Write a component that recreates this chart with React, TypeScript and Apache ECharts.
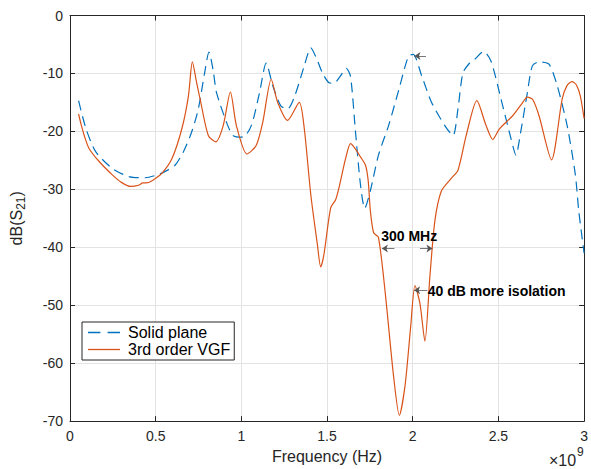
import React, { useEffect, useRef } from "react";
import * as echarts from "echarts";

// Frequencies in units of 1e9 Hz (axis shows ×10^9)
const solidFreq = [
  0.05, 0.093, 0.15, 0.247, 0.344, 0.44, 0.51, 0.556, 0.614, 0.662, 0.71, 0.749, 0.785, 0.811, 0.836,
  0.855, 0.913, 0.951, 1.009, 1.058, 1.106, 1.145, 1.183, 1.23, 1.27, 1.31, 1.367, 1.405, 1.44, 1.473,
  1.511, 1.54, 1.579, 1.612, 1.637, 1.666, 1.695, 1.72, 1.753, 1.8, 1.859, 1.917, 1.975, 2.003, 2.052,
  2.11, 2.187, 2.235, 2.264, 2.293, 2.332, 2.36, 2.414, 2.457, 2.515, 2.573, 2.602, 2.63, 2.669, 2.698,
  2.737, 2.795, 2.843, 2.901, 2.949, 2.969, 3.0,
];
const solidDb = [
  -14.7, -19.5, -23.5, -26.4, -27.8, -28.0, -27.5, -26.9, -25.8, -23.5, -20.1, -16.1, -10.0, -6.3, -9.6,
  -13.3, -18.4, -20.7, -21.0, -19.0, -13.3, -8.2, -12.1, -15.6, -16.1, -14.0, -8.7, -5.6, -7.5, -9.9,
  -11.6, -11.7, -10.4, -9.1, -10.5, -20.1, -29.2, -33.3, -30.2, -24.1, -19.0, -13.0, -7.0, -6.7, -10.4,
  -15.0, -19.0, -20.7, -16.1, -9.9, -8.2, -7.6, -6.2, -7.9, -14.4, -21.2, -24.1, -20.1, -13.3, -8.7,
  -8.0, -8.4, -12.1, -19.0, -27.5, -33.8, -41.0,
];

const vgfFreq = [
  0.05, 0.064, 0.083, 0.112, 0.17, 0.247, 0.3, 0.353, 0.4, 0.425, 0.445, 0.479, 0.537, 0.595, 0.653,
  0.691, 0.714, 0.739, 0.759, 0.807, 0.851, 0.894, 0.936, 0.971, 1.033, 1.087, 1.125, 1.174, 1.212, 1.27,
  1.338, 1.367, 1.405, 1.443, 1.463, 1.482, 1.521, 1.55, 1.569, 1.608, 1.637, 1.665, 1.695, 1.724, 1.74,
  1.753, 1.772, 1.8, 1.84, 1.888, 1.922, 1.955, 1.988, 2.013, 2.042, 2.071, 2.1, 2.129, 2.167, 2.225,
  2.264, 2.312, 2.374, 2.428, 2.467, 2.505, 2.583, 2.635, 2.669, 2.7, 2.737, 2.81, 2.872, 2.9, 2.93,
  2.955, 2.978, 3.0,
];
const vgfDb = [
  -17.0, -18.7, -20.7, -23.0, -25.2, -27.5, -28.8, -29.5, -29.3, -28.9, -28.9, -28.5, -27.2, -24.7, -19.5,
  -13.9, -8.0, -11.6, -14.4, -20.7, -21.8, -19.0, -13.2, -19.0, -23.9, -22.4, -18.4, -11.0, -15.0, -18.1,
  -15.0, -19.5, -30.9, -39.4, -43.4, -41.2, -33.2, -31.8, -29.8, -24.7, -22.1, -23.0, -24.4, -25.8, -28.5,
  -33.8, -37.5, -38.3, -48.0, -62.2, -69.0, -63.9, -53.7, -46.6, -49.7, -56.2, -45.1, -35.5, -30.3, -28.1,
  -26.7, -20.7, -14.7, -19.0, -21.4, -19.6, -17.3, -15.3, -14.1, -14.5, -17.3, -24.9, -14.4, -12.1, -11.4,
  -12.0, -13.9, -17.8,
];

const seriesNames = ["Solid plane", "3rd order VGF"];
const xMin = 0, xMax = 3, xStep = 0.5;
const yMin = -70, yMax = 0, yStep = 10;

// annotations (data coordinates)
const peakArrow = [[2.077, -7.0], [2.01, -7.0]];
const bwLeftArrow = [[1.893, -40.2], [1.82, -40.2]];
const bwRightArrow = [[2.042, -40.2], [2.115, -40.2]];
const isoArrow = [[2.085, -47.4], [2.008, -47.4]];
const bwLabel = { text: "300 MHz", at: [1.816, -38.0] };
const isoLabel = { text: "40 dB more isolation", at: [2.088, -47.5] };

const FONT = "'Liberation Sans', Arial, Helvetica, sans-serif";
const INK = "#262626";
const BLUE = "#0072BD";
const ORANGE = "#D95319";
const DASH_ICON = "path://M0,0H12V1.3H0Z M19,0H31V1.3H19Z";
const LINE_ICON = "path://M0,0H32V1.3H0Z";

export default function App() {
  const ref = useRef<HTMLDivElement>(null);
  useEffect(() => {
    if (!ref.current) return;
    const chart = echarts.init(ref.current, undefined, { renderer: "svg" });
    const pairs = (xs: number[], ys: number[]) => xs.map((x, i) => [x, ys[i]]);
    const arrow = (seg: number[][]) => [
      { coord: seg[0], symbol: "none" },
      { coord: seg[1], symbol: "arrow" },
    ];
    const axisCommon = {
      type: "value" as const,
      axisLine: { show: true, onZero: false, lineStyle: { color: INK, width: 1 } },
      axisTick: { show: true, inside: true, length: 5, lineStyle: { color: INK } },
    };
    chart.setOption({
      animation: false,
      textStyle: { fontFamily: FONT },
      grid: { left: 69, right: 3, top: 15.5, bottom: 43, containLabel: false },
      legend: {
        data: [
          { name: seriesNames[0], icon: DASH_ICON },
          { name: seriesNames[1], icon: LINE_ICON },
        ],
        orient: "vertical",
        left: 82,
        top: 322,
        backgroundColor: "#fff",
        borderColor: INK,
        borderWidth: 1,
        borderRadius: 0,
        padding: [2, 4, 2, 6],
        itemWidth: 32,
        itemHeight: 14,
        itemGap: 0,
        symbolKeepAspect: true,
        textStyle: { fontSize: 16, color: "#000", fontFamily: FONT, lineHeight: 17, padding: [0, 0, 0, 3] },
      },
      xAxis: [
        {
          ...axisCommon,
          min: xMin, max: xMax, interval: xStep, position: "bottom",
          axisLabel: { color: INK, fontSize: 14, margin: 8, fontFamily: FONT },
          splitLine: { show: true, lineStyle: { color: "#e3e3e3", width: 1 } },
          name: "Frequency (Hz)", nameLocation: "middle", nameGap: 26,
          nameTextStyle: { fontSize: 16, color: INK, fontFamily: FONT },
        },
        {
          ...axisCommon,
          min: xMin, max: xMax, interval: xStep, position: "top",
          axisLabel: { show: false }, splitLine: { show: false },
        },
      ],
      yAxis: [
        {
          ...axisCommon,
          min: yMin, max: yMax, interval: yStep, position: "left",
          axisLabel: { color: INK, fontSize: 14, margin: 7, fontFamily: FONT },
          splitLine: { show: true, lineStyle: { color: "#e3e3e3", width: 1 } },
          name: "{a|dB(S}{s|21}{a|)}", nameLocation: "middle", nameGap: 36,
          nameTextStyle: {
            color: INK,
            rich: {
              a: { fontSize: 16, color: INK, fontFamily: FONT, lineHeight: 16, verticalAlign: "top" },
              s: { fontSize: 12, color: INK, fontFamily: FONT, lineHeight: 26, verticalAlign: "middle" },
            },
          },
        },
        {
          ...axisCommon,
          min: yMin, max: yMax, interval: yStep, position: "right",
          axisLabel: { show: false }, splitLine: { show: false },
        },
      ],
      series: [
        {
          name: seriesNames[0],
          type: "line",
          data: pairs(solidFreq, solidDb),
          showSymbol: false,
          symbol: "none",
          smooth: 0.25,
          lineStyle: { color: BLUE, width: 1.2, type: [10, 6] },
          itemStyle: { color: BLUE },
          z: 2,
          markLine: {
            silent: true,
            symbol: ["none", "arrow"],
            symbolSize: 6,
            label: { show: false },
            lineStyle: { color: "#555", width: 0.8, type: "solid" },
            data: [arrow(peakArrow)],
          },
        },
        {
          name: seriesNames[1],
          type: "line",
          data: pairs(vgfFreq, vgfDb),
          showSymbol: false,
          symbol: "none",
          smooth: 0.25,
          lineStyle: { color: ORANGE, width: 1.2, type: "solid" },
          itemStyle: { color: ORANGE },
          z: 3,
          markLine: {
            silent: true,
            symbol: ["none", "arrow"],
            symbolSize: 6,
            label: { show: false },
            lineStyle: { color: "#555", width: 0.8, type: "solid" },
            data: [arrow(bwLeftArrow), arrow(bwRightArrow), arrow(isoArrow)],
          },
          markPoint: {
            silent: true,
            symbol: "circle",
            symbolSize: 0,
            data: [bwLabel, isoLabel].map((l) => ({
              coord: l.at,
              label: {
                show: true,
                position: "right",
                distance: 0,
                formatter: l.text,
                fontSize: 14,
                fontWeight: "bold",
                color: "#000",
                fontFamily: FONT,
              },
            })),
          },
        },
      ],
      graphic: [
        {
          type: "text",
          left: 549,
          top: 452,
          style: { text: "×10", fontSize: 16, fill: INK, fontFamily: FONT },
        },
        {
          type: "text",
          left: 577,
          top: 446,
          style: { text: "9", fontSize: 12, fill: INK, fontFamily: FONT },
        },
      ],
    });
    return () => chart.dispose();
  }, []);
  return (
    <div
      ref={ref}
      style={{ position: "fixed", left: 0, top: 0, width: 591, height: 469, background: "#fff" }}
    />
  );
}
